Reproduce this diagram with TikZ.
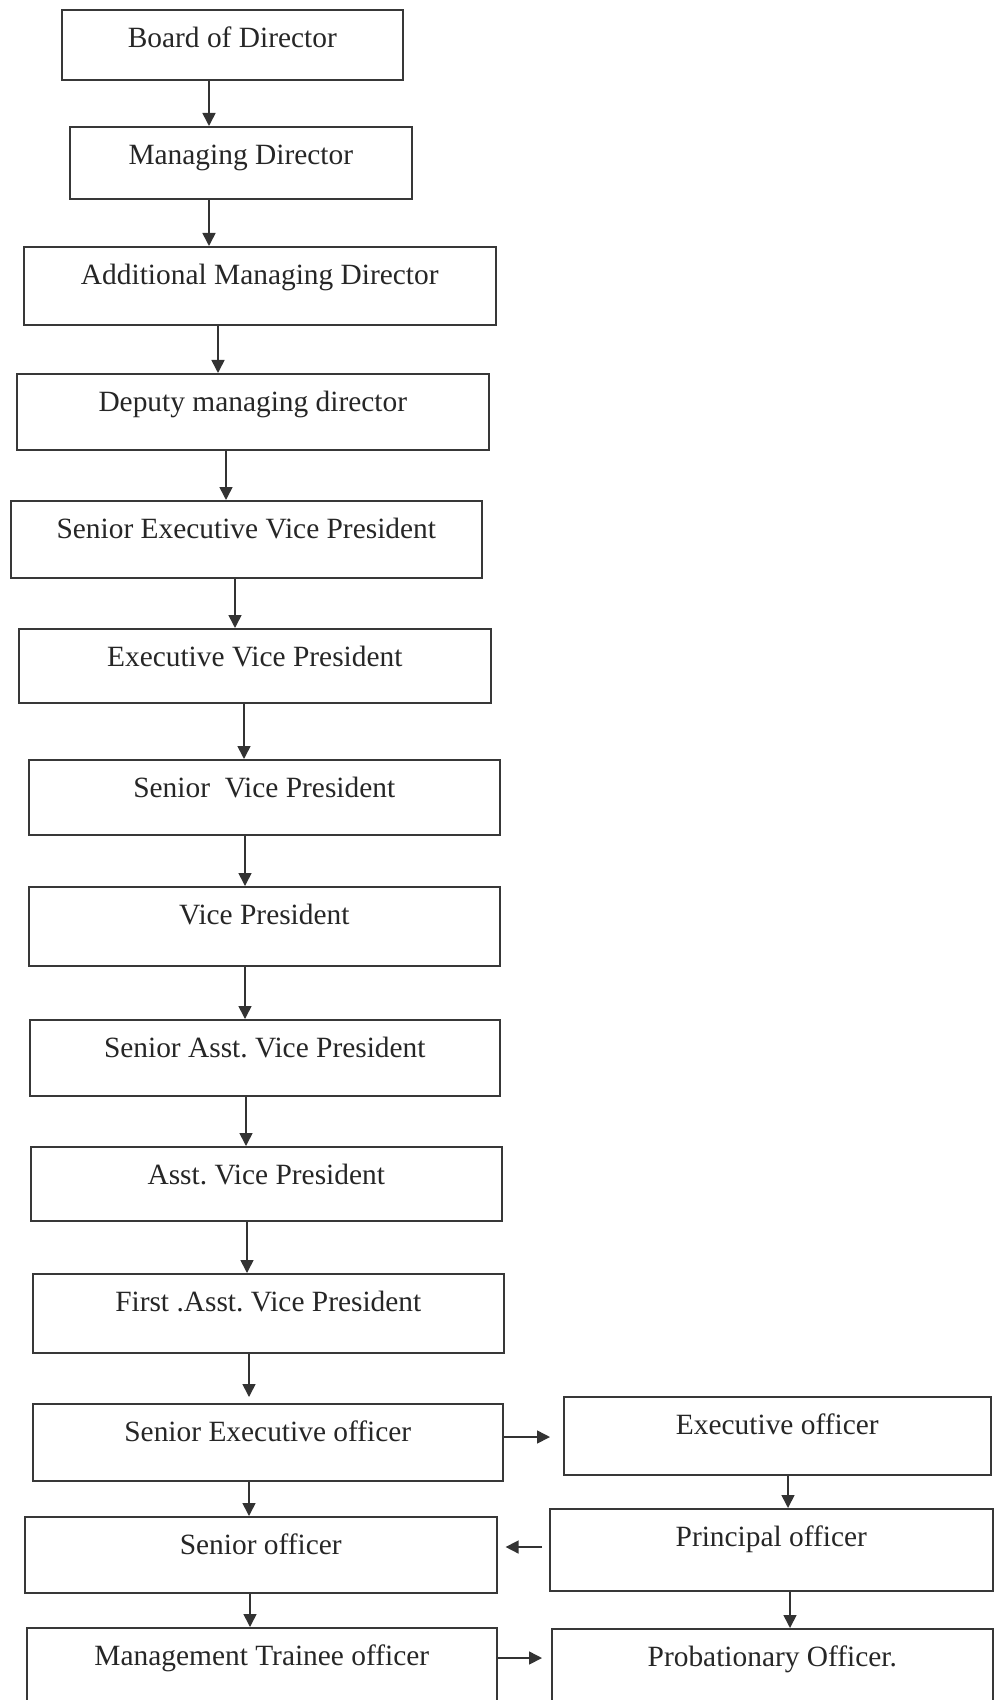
\documentclass[tikz,border=0pt]{standalone}
\usepackage{fontspec}
\setmainfont{Liberation Serif}
\usetikzlibrary{arrows.meta}
\frenchspacing
\begin{document}
\begin{tikzpicture}[x=0.5pt,y=-0.5pt,
  orgbox/.style={draw=black!78, line width=0.8pt, anchor=north west,
    inner sep=0pt, text height=19pt, text=black!85,
    font=\fontsize{14.7pt}{17pt}\selectfont},
  link/.style={draw=black!80, line width=0.8pt,
    -{Triangle[length=6.5pt,width=6.5pt]}}]

% page frame
\fill[white] (0,0) rectangle (1000,1700);
\useasboundingbox (0,0) rectangle (1000,1700);
\clip (0,0) rectangle (1000,1700);

% main column
\node[orgbox, minimum width=170.5pt, text depth=16pt]   (board) at (61,9)    {Board of Director};
\node[orgbox, minimum width=171pt,   text depth=17pt]   (md)    at (69,126)  {Managing Director};
\node[orgbox, minimum width=236pt,   text depth=20pt]   (amd)   at (23,246)  {Additional Managing Director};
\node[orgbox, minimum width=236pt,   text depth=19pt]   (dmd)   at (16,373)  {Deputy managing director};
\node[orgbox, minimum width=235.5pt, text depth=19.5pt] (sevp)  at (10,500)  {Senior Executive Vice President};
\node[orgbox, minimum width=236pt,   text depth=18pt]   (evp)   at (18,628)  {Executive Vice President};
\node[orgbox, minimum width=235.5pt, text depth=18.5pt] (svp)   at (28,759)  {Senior\ \ Vice President};
\node[orgbox, minimum width=235.5pt, text depth=20.5pt] (vp)    at (28,886)  {Vice President};
\node[orgbox, minimum width=235pt,   text depth=19pt]   (savp)  at (29,1019) {Senior Asst. Vice President};
\node[orgbox, minimum width=235.5pt, text depth=18pt]   (avp)   at (30,1146) {Asst. Vice President};
\node[orgbox, minimum width=235.5pt, text depth=20.5pt] (favp)  at (32,1273) {First .Asst. Vice President};
\node[orgbox, minimum width=235pt,   text depth=19.5pt] (seo)   at (32,1403) {Senior Executive officer};
\node[orgbox, minimum width=236pt,   text depth=19pt]   (so)    at (24,1516) {Senior officer};
\node[orgbox, minimum width=235pt,   text depth=31pt]   (mto)   at (26,1627) {Management Trainee officer};

% right column
\node[orgbox, minimum width=213.5pt, text depth=20pt]   (eo)    at (563,1396) {Executive officer};
\node[orgbox, minimum width=221.5pt, text depth=22pt]   (po)    at (549,1508) {Principal officer};
\node[orgbox, minimum width=220.5pt, text depth=31pt]   (pro)   at (551,1628) {Probationary Officer.};

% connector columns and rows
\coordinate (k1)  at (209,0);
\coordinate (k3)  at (218,0);
\coordinate (k4)  at (226,0);
\coordinate (k5)  at (235,0);
\coordinate (k6)  at (244,0);
\coordinate (k7)  at (245,0);
\coordinate (k9)  at (246,0);
\coordinate (k10) at (247,0);
\coordinate (k11) at (249,0);
\coordinate (k13) at (250,0);
\coordinate (r1)  at (788,0);
\coordinate (r2)  at (790,0);
\coordinate (h1)  at (0,1437);
\coordinate (h2)  at (0,1547);
\coordinate (h3)  at (0,1658);

% downward links
\draw[link] (board.south -| k1) -- (md.north -| k1);
\draw[link] (md.south -| k1)    -- (amd.north -| k1);
\draw[link] (amd.south -| k3)   -- (dmd.north -| k3);
\draw[link] (dmd.south -| k4)   -- (sevp.north -| k4);
\draw[link] (sevp.south -| k5)  -- (evp.north -| k5);
\draw[link] (evp.south -| k6)   -- (svp.north -| k6);
\draw[link] (svp.south -| k7)   -- (vp.north -| k7);
\draw[link] (vp.south -| k7)    -- (savp.north -| k7);
\draw[link] (savp.south -| k9)  -- (avp.north -| k9);
\draw[link] (avp.south -| k10)  -- (favp.north -| k10);
\draw[link, shorten >=3pt] (favp.south -| k11) -- (seo.north -| k11);
\draw[link] (seo.south -| k11)  -- (so.north -| k11);
\draw[link] (so.south -| k13)   -- (mto.north -| k13);
\draw[link] (eo.south -| r1)    -- (po.north -| r1);
\draw[link] (po.south -| r2)    -- (pro.north -| r2);

% sideways links
\draw[link, shorten >=6.5pt] (seo.east |- h1) -- (eo.west |- h1);
\draw[link, shorten <=3.5pt, shorten >=4pt] (po.west |- h2) -- (so.east |- h2);
\draw[link, shorten >=4.5pt] (mto.east |- h3) -- (pro.west |- h3);

\end{tikzpicture}
\end{document}
